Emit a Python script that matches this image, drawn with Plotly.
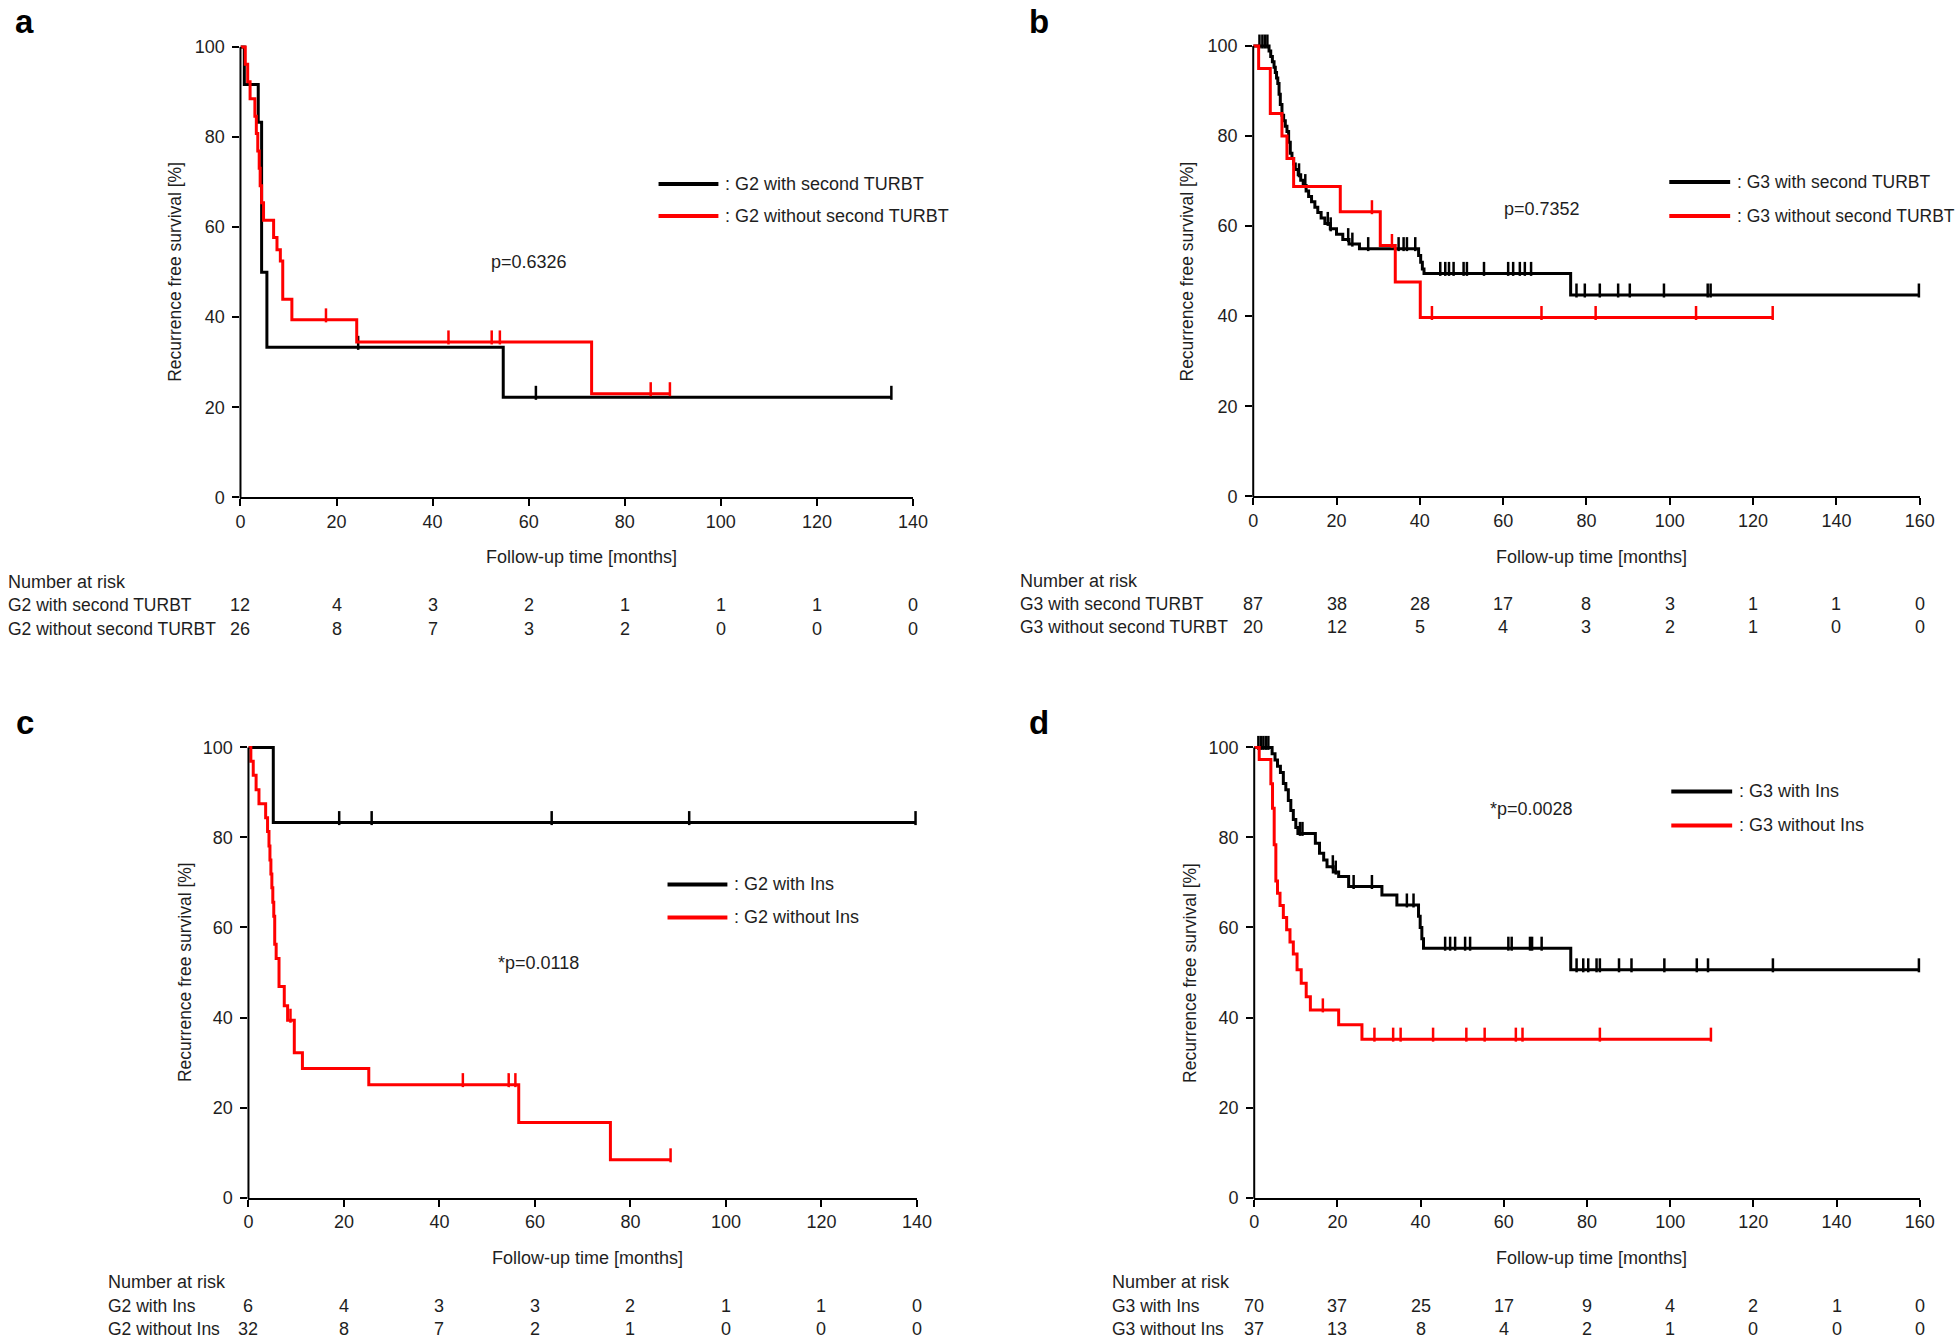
import numpy as np
import plotly.graph_objects as go

# ---- survival curves (time in months, survival in %) ----
# a: G2, second TURBT
a_with_t = [0, 0.8, 3.7, 4.4, 5.5, 54.7, 135.5]
a_with_s = [100, 91.7, 83.3, 50.0, 33.3, 22.2, 22.2]
a_with_cens = [24.5, 61.5, 135.5]
a_wo_t = [0, 1.0, 1.5, 2.0, 3.0, 3.3, 3.6, 3.9, 4.1, 4.4, 4.8, 6.9, 7.6, 8.3, 8.8, 10.7, 24.2, 73.1, 89.4]
a_wo_s = [100, 96.2, 92.3, 88.5, 84.6, 80.8, 76.9, 73.1, 69.2, 65.4, 61.5, 57.7, 55.0, 52.5, 44.0, 39.4, 34.5, 23.0, 23.0]
a_wo_cens = [17.8, 43.3, 52.3, 54.0, 85.4, 89.4]

# b: G3, second TURBT
b_with_t = [0, 3.8, 4.2, 4.6, 5.0, 5.3, 5.6, 5.9, 6.2, 6.5, 6.9, 7.3, 7.7, 8.1, 8.5, 8.9, 9.3, 9.7, 10.1, 10.8,
            11.4, 12.0, 12.7, 13.3, 14.0, 14.8, 15.5, 16.3, 17.2, 18.5, 20.0, 21.5, 23.0, 25.5, 39.7, 40.2, 40.6,
            41.0, 76.2, 159.8]
b_with_s = [100, 98.9, 97.7, 96.5, 95.3, 94.1, 92.9, 91.7, 89.3, 87.0, 84.6, 83.4, 82.2, 81.0, 78.6, 76.2, 75.0,
            73.8, 72.6, 71.4, 70.2, 69.0, 67.8, 66.6, 65.4, 64.2, 63.0, 61.8, 60.6, 59.4, 58.2, 57.0, 56.0, 55.0,
            53.5, 52.0, 50.5, 49.5, 44.7, 44.7]
b_with_cens = [1.5, 2.2, 2.8, 3.4, 11.0, 12.5, 17.9, 18.6, 22.8, 23.8, 27.6, 34.9, 36.1, 36.9, 38.9, 44.9, 46.1,
               47.0, 48.1, 50.5, 51.3, 55.4, 61.2, 62.4, 64.0, 65.2, 66.7, 77.6, 79.6, 83.2, 87.6, 90.4, 98.6,
               109.1, 109.8, 159.8]
b_wo_t = [0, 1.3, 4.1, 6.9, 8.1, 9.7, 20.9, 30.5, 34.1, 40.1, 124.7]
b_wo_s = [100, 95.0, 85.0, 80.0, 75.0, 68.8, 63.2, 55.7, 47.6, 39.7, 39.7]
b_wo_cens = [28.5, 33.3, 42.9, 69.2, 82.2, 106.3, 124.7]

# c: G2, Ins
c_with_t = [0, 5.2, 139.7]
c_with_s = [100, 83.3, 83.3]
c_with_cens = [19.0, 25.8, 63.5, 92.3, 139.7]
c_wo_t = [0, 0.5, 1.0, 1.6, 2.2, 3.6, 4.0, 4.3, 4.5, 4.7, 4.9, 5.1, 5.3, 5.5, 5.8, 6.4, 7.5, 8.2, 9.6, 11.3,
          25.2, 56.6, 75.8, 88.4]
c_wo_s = [100, 96.9, 93.8, 90.6, 87.5, 84.4, 81.3, 78.1, 75.0, 71.9, 68.8, 65.6, 62.5, 56.3, 53.1, 46.9, 42.6,
          39.4, 32.2, 28.7, 25.1, 16.7, 8.4, 8.4]
c_wo_cens = [8.8, 44.9, 54.5, 55.9, 88.4]

# d: G3, Ins
d_with_t = [0, 4.3, 5.0, 5.6, 6.3, 7.0, 7.6, 8.2, 8.8, 9.4, 10.0, 10.5, 14.7, 15.7, 16.7, 17.5, 19.0, 20.3, 22.7,
            30.7, 34.3, 39.5, 39.9, 40.3, 40.7, 76.1, 159.8]
d_with_s = [100, 98.6, 97.2, 95.8, 94.4, 92.0, 90.6, 88.2, 86.0, 84.0, 82.2, 80.9, 78.7, 76.5, 75.0, 73.5, 72.3,
            71.3, 69.1, 67.2, 65.0, 62.5, 60.0, 57.5, 55.4, 50.6, 50.6]
d_with_cens = [1.0, 1.6, 2.2, 2.8, 3.4, 11.0, 11.6, 18.9, 19.6, 23.9, 28.3, 36.7, 38.3, 45.9, 47.1, 48.3, 50.7,
               51.9, 61.1, 61.9, 66.3, 66.8, 69.1, 77.5, 79.1, 80.3, 82.3, 83.1, 87.7, 90.7, 98.6, 106.4, 109.1,
               124.7, 159.8]
d_wo_t = [0, 1.2, 4.0, 4.4, 4.8, 5.2, 5.6, 6.2, 7.0, 7.8, 8.6, 9.4, 10.3, 11.3, 12.5, 13.5, 20.3, 25.9, 109.9]
d_wo_s = [100, 97.3, 91.9, 86.5, 78.4, 70.3, 67.6, 64.9, 62.2, 59.5, 56.8, 54.1, 50.6, 47.6, 44.6, 41.7, 38.4,
          35.2, 35.2]
d_wo_cens = [16.5, 28.9, 33.4, 35.2, 43.0, 51.0, 55.4, 62.9, 64.5, 83.1, 109.8]

# ---- numbers at risk ----
a_groups = ["G2 with second TURBT", "G2 without second TURBT"]
a_risk = [[12, 4, 3, 2, 1, 1, 1, 0], [26, 8, 7, 3, 2, 0, 0, 0]]
b_groups = ["G3 with second TURBT", "G3 without second TURBT"]
b_risk = [[87, 38, 28, 17, 8, 3, 1, 1, 0], [20, 12, 5, 4, 3, 2, 1, 0, 0]]
c_groups = ["G2 with Ins", "G2 without Ins"]
c_risk = [[6, 4, 3, 3, 2, 1, 1, 0], [32, 8, 7, 2, 1, 0, 0, 0]]
d_groups = ["G3 with Ins", "G3 without Ins"]
d_risk = [[70, 37, 25, 17, 9, 4, 2, 1, 0], [37, 13, 8, 4, 2, 1, 0, 0, 0]]

p_values = ["p=0.6326", "p=0.7352", "*p=0.0118", "*p=0.0028"]

W, H = 1960, 1338
# the photographed page comes out ~0.8% smaller than the figure, so stretch positions a touch
K = 1 / 0.992
FONT = "Liberation Sans, Arial, sans-serif"
TXT = "#1e1e1e"
YTOP = 104
FS = 18


def px(x):
    return x * K / W


def py(y):
    return 1 - y * K / H


def surv_at(ts, ss, t):
    i = np.searchsorted(np.array(ts), t, side="right") - 1
    return ss[max(i, 0)]


# layout of each panel in page pixels: x of t=0, x of t=max, y of S=0, y of S=100
panels = [
    dict(tag="a", xmax=140, x0=236, x1=910, y0=497, y100=47,
         curves=[(a_with_t, a_with_s, a_with_cens, "black"), (a_wo_t, a_wo_s, a_wo_cens, "#ff0000")],
         groups=a_groups, risk=a_risk, pv=p_values[0], pvpos=(525, 262),
         ytitle_x=171, xtitle_y=557, risk_x=1, risk_y=(582, 605, 629),
         leg=(655, 715, 184, 216), legfs=18, letter=(20, 21)),
    dict(tag="b", xmax=160, x0=1251, x1=1919, y0=496, y100=46,
         curves=[(b_with_t, b_with_s, b_with_cens, "black"), (b_wo_t, b_wo_s, b_wo_cens, "#ff0000")],
         groups=b_groups, risk=b_risk, pv=p_values[1], pvpos=(1540, 209),
         ytitle_x=1185, xtitle_y=557, risk_x=1015, risk_y=(581, 604, 627),
         leg=(1668, 1729, 182, 216), legfs=17.5, letter=(1036, 21)),
    dict(tag="c", xmax=140, x0=244, x1=914, y0=1197, y100=747,
         curves=[(c_with_t, c_with_s, c_with_cens, "black"), (c_wo_t, c_wo_s, c_wo_cens, "#ff0000")],
         groups=c_groups, risk=c_risk, pv=p_values[2], pvpos=(535, 962),
         ytitle_x=180, xtitle_y=1257, risk_x=101, risk_y=(1281, 1305, 1328),
         leg=(664, 724, 884, 917), legfs=18, letter=(20, 722)),
    dict(tag="d", xmax=160, x0=1252, x1=1919, y0=1197, y100=747,
         curves=[(d_with_t, d_with_s, d_with_cens, "black"), (d_wo_t, d_wo_s, d_wo_cens, "#ff0000")],
         groups=d_groups, risk=d_risk, pv=p_values[3], pvpos=(1530, 809),
         ytitle_x=1187, xtitle_y=1257, risk_x=1107, risk_y=(1281, 1305, 1328),
         leg=(1670, 1731, 791, 825), legfs=18, letter=(1036, 722)),
]

fig = go.Figure()
annotations = []
shapes = []
layout_axes = {}

for k, p in enumerate(panels):
    n = "" if k == 0 else str(k + 1)
    xa, ya = "x" + n, "y" + n
    ytop_px = p["y0"] - (p["y0"] - p["y100"]) * YTOP / 100
    layout_axes["xaxis" + n] = dict(
        domain=[px(p["x0"]), px(p["x1"])], range=[0, p["xmax"]], anchor=ya,
        tickvals=list(range(0, p["xmax"] + 1, 20)), ticks="outside", ticklen=7, tickwidth=2,
        tickcolor="black", showline=True, linewidth=2, linecolor="black", showgrid=False,
        zeroline=False, tickfont=dict(family=FONT, size=FS, color=TXT))
    layout_axes["yaxis" + n] = dict(
        domain=[py(p["y0"]), py(ytop_px)], range=[0, YTOP], anchor=xa,
        tickvals=list(range(0, 101, 20)), ticks="outside", ticklen=7, tickwidth=2,
        tickcolor="black", showline=False, showgrid=False, zeroline=False, ticklabelstandoff=4,
        tickfont=dict(family=FONT, size=FS, color=TXT))
    # y axis line stops at 100
    shapes.append(dict(type="line", xref="paper", yref="paper", x0=px(p["x0"]), x1=px(p["x0"]),
                       y0=py(p["y0"] + 1), y1=py(p["y100"]), line=dict(color="black", width=2)))

    for ts, ss, cens, col in p["curves"]:
        fig.add_trace(go.Scatter(x=ts, y=ss, mode="lines", line=dict(color=col, width=3, shape="hv"),
                                 xaxis=xa, yaxis=ya, showlegend=False, hoverinfo="skip"))
        cy = [surv_at(ts, ss, t) + 1.0 for t in cens]
        fig.add_trace(go.Scatter(x=cens, y=cy, mode="markers", xaxis=xa, yaxis=ya, showlegend=False,
                                 cliponaxis=False, hoverinfo="skip",
                                 marker=dict(symbol="line-ns", size=10, line=dict(color=col, width=2.5))))

    # legend keys
    lx0, lx1, ly1, ly2 = p["leg"]
    for (ts, ss, cens, col), name, ly in zip(p["curves"], p["groups"], (ly1, ly2)):
        shapes.append(dict(type="line", xref="paper", yref="paper", x0=px(lx0), x1=px(lx1),
                           y0=py(ly), y1=py(ly), line=dict(color=col, width=4)))
        annotations.append(dict(xref="paper", yref="paper", x=px(lx1 + 5), y=py(ly), text=": " + name,
                                showarrow=False, xanchor="left", yanchor="middle",
                                font=dict(family=FONT, size=p["legfs"], color=TXT)))

    # p-value
    annotations.append(dict(xref="paper", yref="paper", x=px(p["pvpos"][0]), y=py(p["pvpos"][1]),
                            text=p["pv"], showarrow=False, xanchor="center", yanchor="middle",
                            font=dict(family=FONT, size=FS, color=TXT)))
    # axis titles
    annotations.append(dict(xref="paper", yref="paper", x=px(p["ytitle_x"]),
                            y=py((p["y0"] + p["y100"]) / 2), text="Recurrence free survival [%]",
                            textangle=-90, showarrow=False, xanchor="center", yanchor="middle",
                            font=dict(family=FONT, size=17.5, color=TXT)))
    annotations.append(dict(xref="paper", yref="paper", x=px((p["x0"] + p["x1"]) / 2 + 5),
                            y=py(p["xtitle_y"]), text="Follow-up time [months]", showarrow=False,
                            xanchor="center", yanchor="middle", font=dict(family=FONT, size=FS, color=TXT)))
    # panel letter
    annotations.append(dict(xref="paper", yref="paper", x=px(p["letter"][0]), y=py(p["letter"][1]),
                            text="<b>" + p["tag"] + "</b>", showarrow=False, xanchor="center",
                            yanchor="middle", font=dict(family=FONT, size=33, color="black")))
    # number at risk table
    annotations.append(dict(xref="paper", yref="paper", x=px(p["risk_x"]), y=py(p["risk_y"][0]),
                            text="Number at risk", showarrow=False, xanchor="left", yanchor="middle",
                            font=dict(family=FONT, size=FS, color=TXT)))
    for name, row, ry in zip(p["groups"], p["risk"], p["risk_y"][1:]):
        annotations.append(dict(xref="paper", yref="paper", x=px(p["risk_x"]), y=py(ry), text=name,
                                showarrow=False, xanchor="left", yanchor="middle",
                                font=dict(family=FONT, size=17.5, color=TXT)))
        for t, v in zip(range(0, p["xmax"] + 1, 20), row):
            annotations.append(dict(xref=xa, yref="paper", x=t, y=py(ry), text=str(v), showarrow=False,
                                    xanchor="center", yanchor="middle",
                                    font=dict(family=FONT, size=FS, color=TXT)))

fig.update_layout(
    width=W, height=H, margin=dict(l=0, r=0, t=0, b=0),
    paper_bgcolor="white", plot_bgcolor="white",
    annotations=annotations, shapes=shapes, showlegend=False,
    **layout_axes)

# drop the browser's default body margin so the figure fills the window exactly
fig.write_html("out.html", config={"displayModeBar": False},
               post_script="document.body.style.margin='0';document.body.style.overflow='hidden';")
